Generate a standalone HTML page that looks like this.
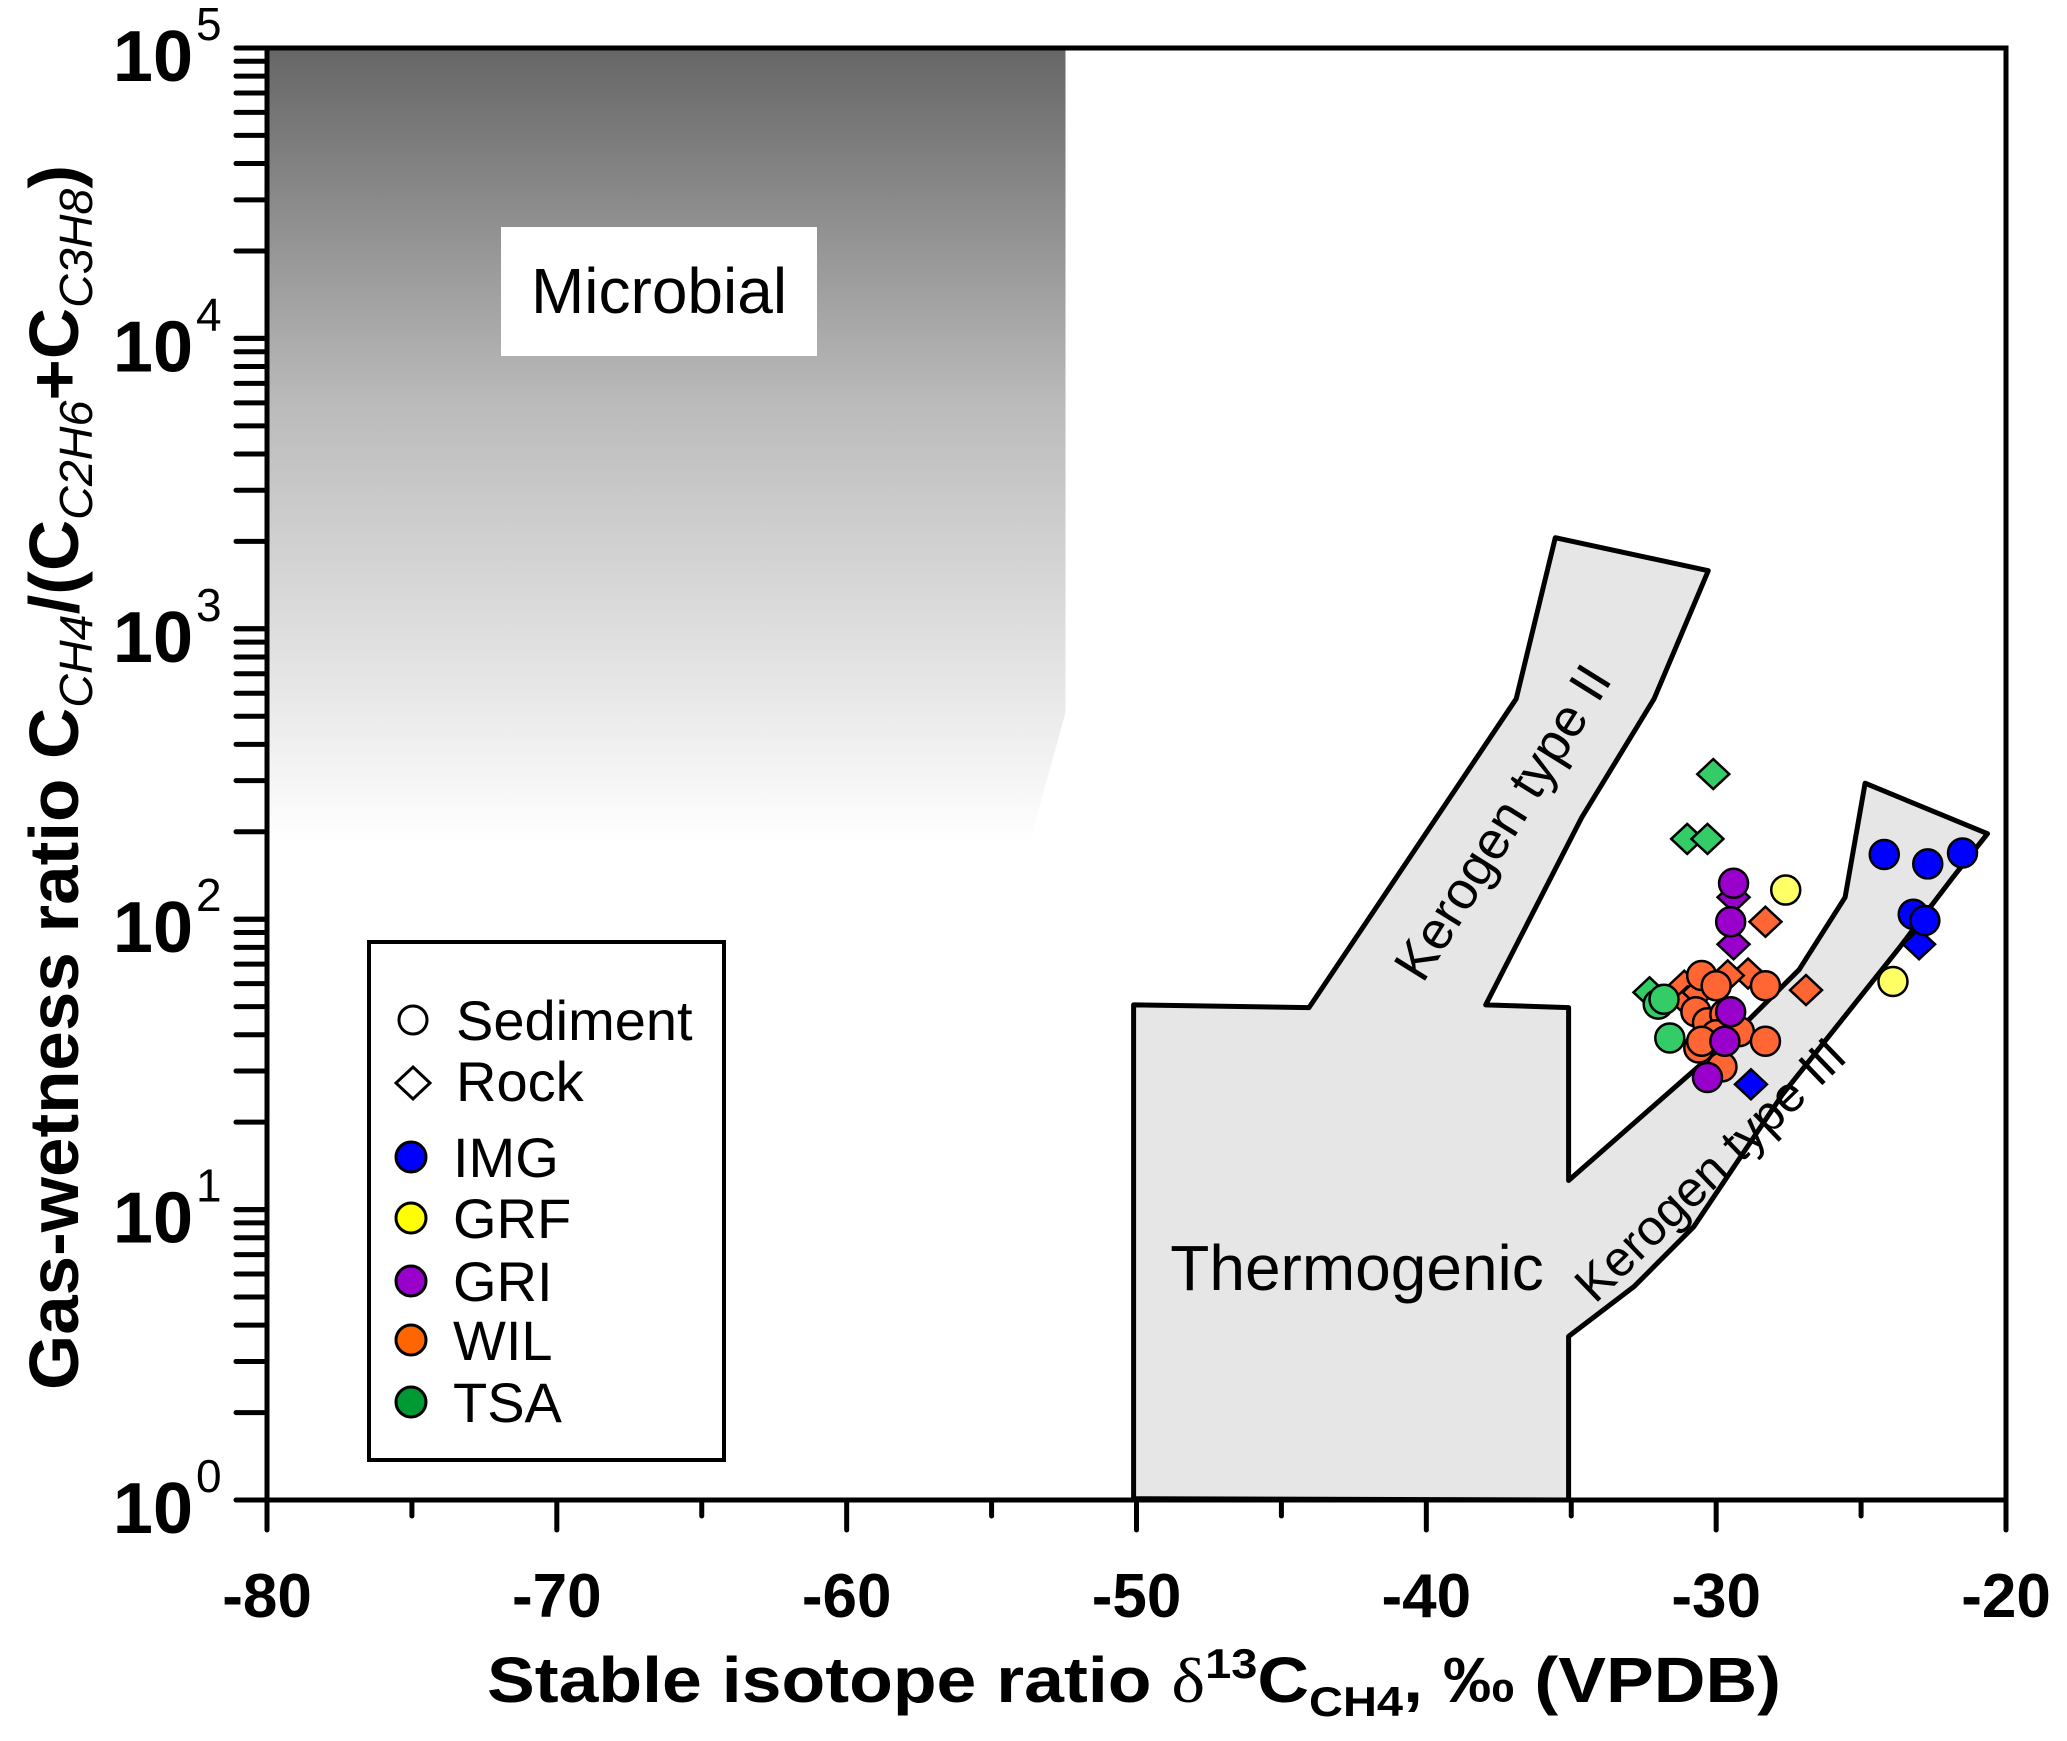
<!DOCTYPE html>
<html><head><meta charset="utf-8"><title>Gas-wetness vs δ13C</title>
<style>html,body{margin:0;padding:0;background:#fff}svg{display:block}</style></head>
<body>
<svg id="chart" width="2067" height="1741" viewBox="0 0 2067 1741" xmlns="http://www.w3.org/2000/svg" font-family="Liberation Sans, Arial, sans-serif">
<defs>
<linearGradient id="micro" x1="0" y1="0" x2="0" y2="1">
<stop offset="0" stop-color="#666"/><stop offset="0.45" stop-color="#bbb"/><stop offset="1" stop-color="#fff"/>
</linearGradient>
</defs>
<g id="regions"></g>
<g id="points"></g>
<g id="axes"></g>
<rect x="501" y="227" width="316" height="129" fill="#fff"/>
<text x="659" y="313" font-size="64" text-anchor="middle">Microbial</text>
<text x="1357" y="1290" font-size="64" text-anchor="middle">Thermogenic</text>
<text font-size="53" text-anchor="middle" transform="translate(1518,832) rotate(-58)">Kerogen type II</text>
<text font-size="50" text-anchor="middle" transform="translate(1722,1182) rotate(-44)">Kerogen type III</text>
<g>
<rect x="369" y="942" width="355" height="518" fill="#fff" stroke="#000" stroke-width="4"/>
<circle cx="413" cy="1020" r="14" fill="#fff" stroke="#000" stroke-width="3"/>
<text x="456" y="1040" font-size="56">Sediment</text>
<path d="M413 1067 L430 1083 L413 1099 L396 1083 Z" fill="#fff" stroke="#000" stroke-width="3"/>
<text x="456" y="1101" font-size="56">Rock</text>
<circle cx="411" cy="1157" r="15" fill="#0000ff" stroke="#000" stroke-width="3"/>
<text x="453" y="1177" font-size="56">IMG</text>
<circle cx="411" cy="1218" r="15" fill="#ffff00" stroke="#000" stroke-width="3"/>
<text x="453" y="1238" font-size="56">GRF</text>
<circle cx="411" cy="1281" r="15" fill="#9900cc" stroke="#000" stroke-width="3"/>
<text x="453" y="1301" font-size="56">GRI</text>
<circle cx="411" cy="1340" r="15" fill="#ff6600" stroke="#000" stroke-width="3"/>
<text x="453" y="1360" font-size="56">WIL</text>
<circle cx="411" cy="1402" r="15" fill="#009933" stroke="#000" stroke-width="3"/>
<text x="453" y="1422" font-size="56">TSA</text>
</g>
<text x="487" y="1702" font-size="64" font-weight="bold" textLength="1294" lengthAdjust="spacingAndGlyphs">Stable isotope ratio <tspan font-weight="normal" font-family="Liberation Serif, serif">δ</tspan><tspan font-size="42" dy="-24">13</tspan><tspan dy="24">C</tspan><tspan font-size="42" dy="14">CH4</tspan><tspan dy="-14">, ‰ (VPDB)</tspan></text>
<text transform="translate(78,1390) rotate(-90)" font-size="70" font-weight="bold" textLength="1225" lengthAdjust="spacingAndGlyphs">Gas-wetness ratio C<tspan font-size="46" font-style="italic" font-weight="normal" dy="14">CH4</tspan><tspan dy="-14">/(C</tspan><tspan font-size="46" font-style="italic" font-weight="normal" dy="14">C2H6</tspan><tspan dy="-14">+C</tspan><tspan font-size="46" font-style="italic" font-weight="normal" dy="14">C3H8</tspan><tspan dy="-14">)</tspan></text>
</svg>
<script>
const NS='http://www.w3.org/2000/svg';
// axis domain
const xTicks=[-80,-70,-60,-50,-40,-30,-20];
const yExponents=[0,1,2,3,4,5];
// series data: [d13C, wetness ratio]
const imgSediment=[[-24.2,167],[-22.7,155],[-21.5,169],[-23.2,104],[-22.8,99]];
const imgRock=[[-23.0,82],[-28.8,27]];
const grfSediment=[[-27.6,126],[-23.9,61]];
const griSediment=[[-29.4,133],[-29.5,98],[-29.5,48],[-30.3,28.5],[-29.7,38]];
const griRock=[[-29.4,119],[-29.4,82],[-30.2,34]];
const wilRock=[[-28.3,98],[-28.9,65],[-26.9,57],[-29.6,64],[-31.1,59],[-31.0,52],[-30.6,56]];
const wilSediment=[[-30.5,64],[-30.0,59],[-28.3,59],[-30.7,48],[-30.3,44],[-29.7,47],[-30.0,40],[-29.2,41],[-28.3,38],[-30.6,36],[-29.8,31],[-30.5,38]];
const tsaRock=[[-30.1,316],[-31.0,189],[-30.3,189],[-32.3,56]];
const tsaSediment=[[-32.0,51],[-31.8,53],[-31.6,39]];
// field outlines (data coords)
const thermoOutline=[[-50.1,50.7],[-44.05,49.6],[-41.0,141],[-36.9,574],[-35.55,2060],[-30.27,1585],[-32.14,574],[-34.64,224],[-37.95,50.7],[-35.09,49.6],[-35.09,12.6],[-29.64,37.8],[-27.14,67],[-25.55,119],[-24.86,294],[-20.64,197],[-21.82,140],[-23.73,78.6],[-27.73,24.8],[-30.77,8.73],[-32.82,5.45],[-35.09,3.66],[-35.09,1.0],[-50.1,1.01]];
const microbialOutline=[[-80,100000],[-52.45,100000],[-52.45,515],[-53.7,182],[-80,182]];

const X0=267,X1=2006,Y0=1500,Y1=48;
const xs=v=>X0+(v+80)/60*(X1-X0);
const ys=v=>Y0-Math.log10(v)/5*(Y0-Y1);
function mk(tag,attrs,parent){const e=document.createElementNS(NS,tag);for(const k in attrs)e.setAttribute(k,attrs[k]);parent.appendChild(e);return e;}
const reg=document.getElementById('regions'),pts=document.getElementById('points'),ax=document.getElementById('axes');
const poly=a=>a.map(p=>xs(p[0]).toFixed(1)+','+ys(p[1]).toFixed(1)).join(' ');
let m=mk('polygon',{points:poly(microbialOutline),fill:'url(#micro)'},reg);


let t=mk('polygon',{points:poly(thermoOutline),fill:'#e6e6e6',stroke:'#000','stroke-width':5,'stroke-linejoin':'round'},reg);


function series(arr,shape,color,name){
  arr.forEach(p=>{
    const cx=xs(p[0]),cy=ys(p[1]);let e;
    if(shape==='c')e=mk('circle',{cx:cx,cy:cy,r:14.5,fill:color,stroke:'#000','stroke-width':2.5},pts);
    else e=mk('path',{d:`M${cx} ${cy-15}L${cx+16} ${cy}L${cx} ${cy+15}L${cx-16} ${cy}Z`,fill:color,stroke:'#000','stroke-width':2.5},pts);
    
    
  });
}
series(tsaRock,'d','#33cc66','tsa-rock-point');
series(wilRock,'d','#ff6633','wil-rock-point');
series(griRock,'d','#9900cc','gri-rock-point');
series(imgRock,'d','#0000ff','img-rock-point');
series(tsaSediment,'c','#33cc66','tsa-sediment-point');
series(wilSediment,'c','#ff6633','wil-sediment-point');
series(griSediment,'c','#9900cc','gri-sediment-point');
series(grfSediment,'c','#ffff66','grf-sediment-point');
series(imgSediment,'c','#0000ff','img-sediment-point');
// frame
let f=mk('rect',{x:X0,y:Y1,width:X1-X0,height:Y0-Y1,fill:'none',stroke:'#000','stroke-width':5},ax);


// x ticks
for(let v=-80;v<=-20;v+=5){
  const major=v%10===0;const x=xs(v);
  const l=mk('line',{x1:x,y1:Y0,x2:x,y2:Y0+(major?30:16),stroke:'#000','stroke-width':5,'stroke-linecap':'round'},ax);
  
  
}
xTicks.forEach(v=>{
  const tx=mk('text',{x:xs(v),y:1617,'font-size':62,'font-weight':'bold','text-anchor':'middle'},ax);
  tx.textContent=String(v);
  
  
});
// y ticks
for(let e=0;e<5;e++){for(let k=1;k<=10;k++){
  const y=ys(k*Math.pow(10,e));
  const l=mk('line',{x1:X0-31,y1:y,x2:X0,y2:y,stroke:'#000','stroke-width':5,'stroke-linecap':'round'},ax);
  
  
}}
{const l=mk('line',{x1:X0-31,y1:Y1,x2:X0,y2:Y1,stroke:'#000','stroke-width':5},ax);

}
yExponents.forEach(e=>{
  const y=ys(Math.pow(10,e));
  const tx=mk('text',{x:193,y:y+33,'font-size':72,'font-weight':'bold','text-anchor':'end'},ax);
  tx.textContent='10';
  
  
  const sp=mk('text',{x:196,y:y-8,'font-size':46,'font-weight':'normal'},ax);
  sp.textContent=String(e);
  
  
});
</script>
</body></html>
